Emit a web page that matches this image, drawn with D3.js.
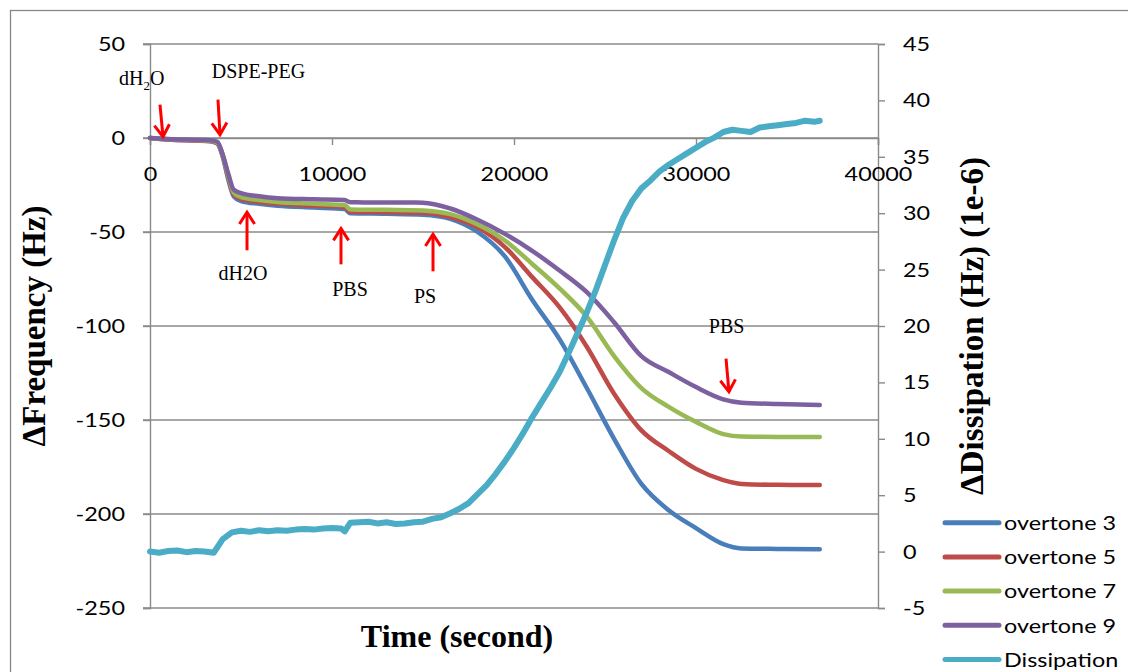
<!DOCTYPE html>
<html>
<head>
<meta charset="utf-8">
<script src="https://cdn.jsdelivr.net/npm/d3@7"></script>
<style>
html,body{margin:0;padding:0;background:#fff;}
svg{display:block;}
</style>
</head>
<body>
<svg id="chart" width="1128" height="672"></svg>
<script>
// ---------- DATA ----------
const times = [0, 1000, 3300, 3700, 4000, 4300, 4600, 5000, 6000, 7000, 9000, 10700, 11000, 13000, 15000, 16500, 18000, 19500, 21000, 22500, 24000, 25500, 27000, 28500, 30000, 31500, 32500, 34500, 36800];
const overtone3 = [0, -0.8, -1.8, -3, -10, -22, -31, -33.5, -35, -36, -37, -37.8, -40, -40.3, -40.8, -43, -50, -63, -86, -107, -133, -160, -184, -198, -207.5, -216, -218.3, -218.6, -218.8];
const overtone5 = [0, -0.8, -1.6, -2.8, -9.5, -21, -30, -32.5, -34, -35, -36, -36.8, -39.2, -39.5, -39.8, -42, -47.5, -58, -74, -90, -111, -136, -155.5, -166.5, -176, -182, -184, -184.5, -184.6];
const overtone7 = [0, -0.6, -1.4, -2.5, -9, -20, -29, -31.5, -33, -34, -35, -35.7, -38, -38.2, -38.5, -40.5, -46, -54.5, -67, -80, -95, -116, -133, -143, -151, -157.5, -158.8, -159, -159];
const overtone9 = [0, -0.5, -1.2, -2, -9, -19, -27.5, -29.3, -31, -32, -32.6, -33, -34.2, -34.3, -34.4, -37.5, -43.5, -51, -60, -70.5, -82, -98, -116, -124.5, -132.5, -139, -140.8, -141.5, -142];

const dissTimes = [0,500,1000,1500,2000,2500,3000,3500,4000,4500,5000,5500,6000,6500,7000,7500,8000,8500,9000,9500,10000,10500,10700,11000,11500,12000,12500,13000,13500,14000,14500,15000,15500,16000,16500,17000,17500,18000,18500,19000,19500,20000,20500,21000,21500,22000,22500,23000,23500,24000,24500,25000,25500,26000,26500,27000,27500,28000,28500,29000,29500,30000,30500,31000,31500,32000,32500,33000,33500,34000,34500,35000,35500,36000,36500,36800];
const dissipation = [0.0,-0.1,0.05,0.1,-0.05,0.05,0.0,-0.1,1.1,1.7,1.85,1.75,1.9,1.8,1.9,1.85,1.95,2.0,1.95,2.05,2.1,2.05,1.8,2.55,2.6,2.65,2.5,2.6,2.45,2.5,2.6,2.65,2.9,3.05,3.4,3.8,4.3,5.1,5.9,6.9,8.0,9.2,10.5,11.9,13.2,14.5,15.9,17.6,19.4,21.2,23.2,25.4,27.6,29.6,31.1,32.2,32.9,33.7,34.3,34.8,35.3,35.8,36.3,36.7,37.2,37.4,37.3,37.2,37.6,37.7,37.8,37.9,38.0,38.2,38.1,38.2];

const seriesNames = ["overtone 3", "overtone 5", "overtone 7", "overtone 9", "Dissipation"];
const seriesColors = ["#4A7EBB", "#BE4B48", "#98B954", "#7D60A0", "#4BACC6"];

const xTicks = [0, 10000, 20000, 30000, 40000];
const yLeftTicks = [50, 0, -50, -100, -150, -200, -250];
const yRightTicks = [45, 40, 35, 30, 25, 20, 15, 10, 5, 0, -5];

// annotation arrows: label, label position (t,f), tail (t,f), tip (t,f)
const annLabels = ["dH2O_sub", "DSPE-PEG", "dH2O", "PBS", "PS", "PBS"];
const annLabelT = [-450, 5960, 5110, 10990, 15110, 31680];
const annLabelF = [28.3, 32, -75.4, -84.2, -88, -103.6];
const annTailT = [549, 3736, 5330, 10495, 15550, 31650];
const annTailF = [17.7, 20.4, -59.7, -67.2, -70.9, -117.4];
const annTipT = [714, 3846, 5330, 10495, 15550, 31810];
const annTipF = [0.7, 1.8, -39.5, -48.2, -51.2, -135];

// ---------- LAYOUT ----------
const svg = d3.select("#chart");
const L = 150, R = 878, T = 44, B = 608;
const gridColor = "#8a8a8a";
const tickFont = "Lato, 'Open Sans', sans-serif";
const serif = "'Liberation Serif', 'Times New Roman', serif";
const SX = 1.17; // horizontal stretch of the sans text
const fmt = d => String(d);

const x = d3.scaleLinear().domain([0, 40000]).range([L, R]);
const yL = d3.scaleLinear().domain([-250, 50]).range([B, T]);
const yR = d3.scaleLinear().domain([-5, 45]).range([B, T]);

// outer border
svg.append("rect").attr("x", 10.5).attr("y", 10.5).attr("width", 1140).attr("height", 700)
  .attr("fill", "none").attr("stroke", "#878787").attr("stroke-width", 1.3);

// gridlines (left axis major)
svg.append("g").selectAll("line").data(yLeftTicks).join("line")
  .attr("x1", L - 7).attr("x2", R).attr("y1", d => yL(d)).attr("y2", d => yL(d))
  .attr("stroke", gridColor).attr("stroke-width", 1.4);

function styleAxis(g) {
  g.select(".domain").attr("stroke", gridColor).attr("stroke-width", 1.4);
  g.selectAll(".tick line").attr("stroke", gridColor).attr("stroke-width", 1.4);
  g.selectAll("text").attr("font-family", tickFont).attr("font-size", 20).attr("fill", "#000");
}

// left axis
const gL = svg.append("g").attr("transform", `translate(${L},0)`)
  .call(d3.axisLeft(yL).tickValues(yLeftTicks).tickSize(7).tickPadding(18).tickFormat(fmt));
styleAxis(gL);
gL.selectAll(".tick text").attr("x", -25 / SX).attr("transform", `scale(${SX},1)`);

// right axis
const gR = svg.append("g").attr("transform", `translate(${R},0)`)
  .call(d3.axisRight(yR).tickValues(yRightTicks).tickSize(7).tickPadding(18).tickFormat(fmt));
styleAxis(gR);
gR.selectAll(".tick text").attr("x", 25 / SX).attr("transform", `scale(${SX},1)`);

// x axis at frequency 0
const gX = svg.append("g").attr("transform", `translate(0,${yL(0)})`)
  .call(d3.axisBottom(x).tickValues(xTicks).tickSize(7).tickPadding(22).tickFormat(fmt));
styleAxis(gX);
gX.selectAll(".tick text").attr("transform", `scale(${SX},1)`);

// ---------- LINES ----------
const freqSeries = [overtone3, overtone5, overtone7, overtone9];
const lineF = d3.line().curve(d3.curveMonotoneX);
freqSeries.forEach((vals, i) => {
  const pts = times.map((t, k) => [x(t), yL(vals[k])]);
  svg.append("path").attr("d", lineF(pts)).attr("fill", "none")
    .attr("stroke", seriesColors[i]).attr("stroke-width", 4.5)
    .attr("stroke-linejoin", "round").attr("stroke-linecap", "round");
});
const dPts = dissTimes.map((t, k) => [x(t), yR(dissipation[k])]);
svg.append("path").attr("d", d3.line()(dPts)).attr("fill", "none")
  .attr("stroke", seriesColors[4]).attr("stroke-width", 6)
  .attr("stroke-linejoin", "round").attr("stroke-linecap", "round");

// ---------- ANNOTATIONS ----------
const red = "#FF0000";
annLabels.forEach((lab, i) => {
  const tx = x(annTailT[i]), ty = yL(annTailF[i]);
  const px = x(annTipT[i]), py = yL(annTipF[i]);
  const ang = Math.atan2(py - ty, px - tx);
  const hl = 14, ha = Math.PI / 5.5;
  const g = svg.append("g").attr("stroke", red).attr("stroke-width", 3).attr("fill", "none").attr("stroke-linecap", "butt");
  g.append("line").attr("x1", tx).attr("y1", ty).attr("x2", px).attr("y2", py);
  g.append("path").attr("d",
    `M${px - hl * Math.cos(ang - ha)},${py - hl * Math.sin(ang - ha)} L${px},${py} L${px - hl * Math.cos(ang + ha)},${py - hl * Math.sin(ang + ha)}`)
    .attr("stroke-linejoin", "miter");
  const t = svg.append("text").attr("x", x(annLabelT[i])).attr("y", yL(annLabelF[i]))
    .attr("text-anchor", "middle").attr("font-family", serif).attr("font-size", 20).attr("fill", "#000");
  if (lab === "dH2O_sub") {
    t.append("tspan").text("dH");
    t.append("tspan").attr("font-size", 13).attr("dy", 5).text("2");
    t.append("tspan").attr("dy", -5).text("O");
  } else {
    t.text(lab);
  }
});

// ---------- TITLES ----------
svg.append("text").attr("x", 457).attr("y", 647).attr("text-anchor", "middle")
  .attr("font-family", serif).attr("font-weight", "bold").attr("font-size", 32).text("Time (second)");
svg.append("text").attr("transform", `translate(34,${(T + B) / 2}) rotate(-90)`)
  .attr("text-anchor", "middle").attr("dominant-baseline", "central")
  .attr("font-family", serif).attr("font-weight", "bold").attr("font-size", 33).text("ΔFrequency (Hz)");
svg.append("text").attr("transform", `translate(972,${(T + B) / 2}) rotate(-90)`)
  .attr("text-anchor", "middle").attr("dominant-baseline", "central")
  .attr("font-family", serif).attr("font-weight", "bold").attr("font-size", 33).text("ΔDissipation (Hz) (1e-6)");

// ---------- LEGEND ----------
const lg = svg.append("g");
seriesNames.forEach((name, i) => {
  const yy = 522.7 + i * 34.2;
  lg.append("line").attr("x1", 945).attr("x2", 999).attr("y1", yy).attr("y2", yy)
    .attr("stroke", seriesColors[i]).attr("stroke-width", 5).attr("stroke-linecap", "round");
  lg.append("text").attr("x", 1004 / SX).attr("y", yy).attr("dominant-baseline", "central")
    .attr("transform", `scale(${SX},1)`)
    .attr("font-family", tickFont).attr("font-size", 20).attr("fill", "#000").text(name);
});
</script>
</body>
</html>
